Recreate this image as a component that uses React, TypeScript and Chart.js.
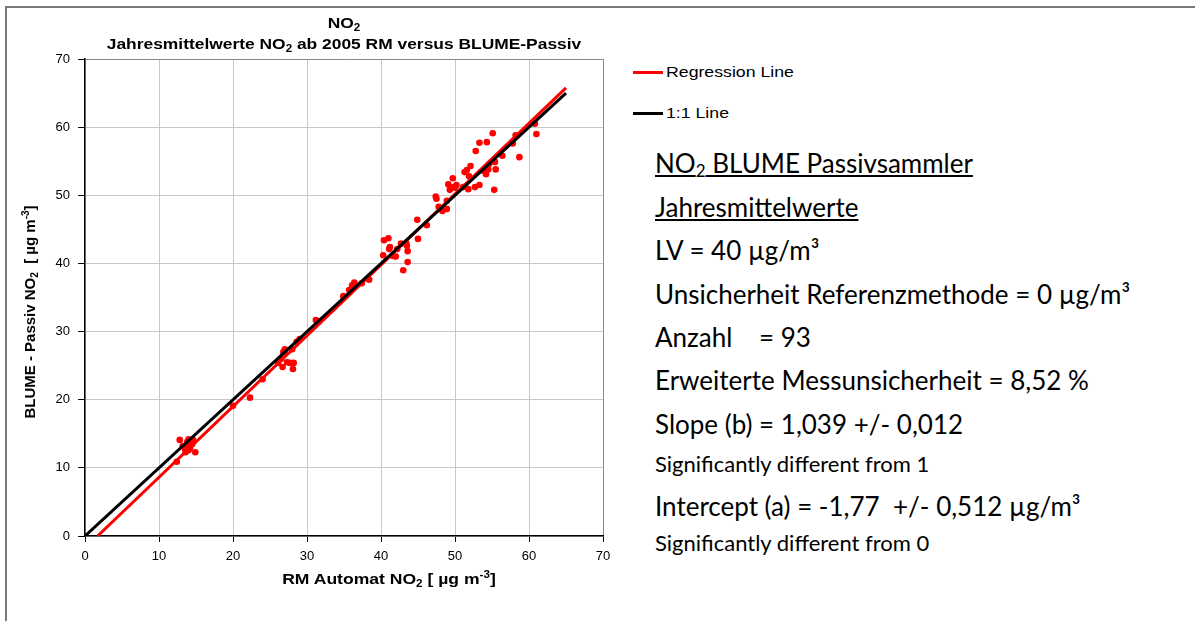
import React, { useEffect, useRef } from "react";
import { Chart, registerables } from "chart.js";

Chart.register(...registerables);

// RM Automat NO2 annual means (x) and BLUME passive sampler annual means (y)
const rmAutomat = [
  12.4, 12.8, 13.2, 13.6, 13.8, 13.9, 14.0, 14.1, 14.2, 14.3, 14.5, 14.6, 14.9, 13.5, 14.0,
  20.0, 22.3, 24.0,
  26.1, 26.7, 26.8, 27.0, 27.0, 27.3, 27.7, 28.0, 28.1, 28.2, 28.6, 29.0, 26.5,
  31.2, 31.6, 34.9, 35.7, 36.1, 36.4, 37.4, 38.4,
  40.3, 40.4, 41.0, 41.2, 41.1, 41.6, 42.0, 42.2, 42.7, 43.4, 43.5, 43.6, 43.6, 43.0, 45.0, 44.9, 46.2,
  47.4, 47.5, 47.8, 48.3, 48.9, 48.9, 49.1, 49.3, 49.7, 49.8, 50.0, 51.1, 51.3, 51.6, 51.8, 51.9,
  52.1, 52.7, 52.8, 53.3, 53.3, 54.2, 54.3, 54.5, 54.6, 55.1, 55.3, 55.4, 55.5, 56.4, 57.8, 58.2,
  58.7, 60.8, 61.0, 50.2, 53.8,
];
const blumePassiv = [
  10.9, 14.1, 13.2, 12.3, 13.8, 13.6, 14.2, 13.3, 12.9, 13.9, 13.5, 14.1, 12.3, 12.8, 12.6,
  19.1, 20.3, 23.0,
  25.4, 24.8, 27.0, 26.9, 27.4, 25.5, 25.4, 27.4, 24.5, 25.4, 28.5, 28.9, 26.0,
  31.7, 31.5, 35.2, 36.1, 36.8, 37.2, 37.1, 37.6,
  41.2, 43.4, 43.7, 42.4, 42.1, 41.1, 41.0, 42.1, 42.9, 43.0, 42.6, 41.8, 40.2, 39.0, 43.6, 46.4, 45.6,
  49.8, 49.5, 48.3, 47.7, 49.2, 48.0, 51.6, 50.8, 52.5, 51.2, 51.1, 51.2, 53.4, 53.7, 50.9, 52.8,
  54.3, 51.2, 56.5, 51.5, 57.7, 53.1, 57.8, 53.8, 54.6, 59.1, 50.8, 54.9, 53.8, 55.8, 57.6, 58.8,
  55.6, 60.5, 59.0, 51.5, 53.6,
];

// Regression line y = 1.039 x - 1.77, drawn from y = 0 to x = 65
const regressionX = [1.7, 65];
const regressionY = [0, 65.77];
// 1:1 line
const identityX = [0, 65];
const identityY = [0, 65];

const axisMin = 0;
const axisMax = 70;
const axisStep = 10;

const statLines = [
  "LV = 40 µg/m³",
  "Unsicherheit Referenzmethode = 0 µg/m³",
  "Anzahl    = 93",
  "Erweiterte Messunsicherheit = 8,52 %",
  "Slope (b) = 1,039 +/- 0,012",
];

const ARIAL = "'Liberation Sans', Arial, sans-serif";
const BODY = "Lato, 'Noto Sans', sans-serif";

export default function App() {
  const canvasRef = useRef<HTMLCanvasElement>(null);

  useEffect(() => {
    const toXY = (xs: number[], ys: number[]) => xs.map((x, i) => ({ x, y: ys[i] }));
    const tickFont = { family: ARIAL, size: 13 };
    const gridColor = (ctx: any) => (ctx.tick && ctx.tick.value === axisMax ? "#8a8a8a" : "#c8c8c8");
    const chart = new Chart(canvasRef.current!, {
      type: "scatter",
      data: {
        datasets: [
          {
            label: "1:1 Line",
            data: toXY(identityX, identityY),
            showLine: true,
            borderColor: "#000000",
            borderWidth: 3,
            pointRadius: 0,
            order: 0,
          },
          {
            label: "Regression Line",
            data: toXY(regressionX, regressionY),
            showLine: true,
            borderColor: "#ff0000",
            borderWidth: 3,
            pointRadius: 0,
            order: 1,
          },
          {
            label: "Jahresmittelwerte",
            data: toXY(rmAutomat, blumePassiv),
            backgroundColor: "#ff0000",
            borderWidth: 0,
            pointRadius: 3.3,
            order: 2,
          },
        ],
      },
      options: {
        animation: false,
        responsive: false,
        maintainAspectRatio: false,
        layout: { padding: { left: 0, right: 22, top: 59, bottom: 0 } },
        plugins: {
          legend: { display: false },
          tooltip: { enabled: false },
          title: { display: false },
        },
        scales: {
          x: {
            type: "linear",
            min: axisMin,
            max: axisMax,
            ticks: { stepSize: axisStep, color: "#000", font: tickFont, padding: 7 },
            grid: { color: gridColor, lineWidth: 1, tickColor: "#000", tickLength: 6 },
            border: { color: "#000", width: 1.5 },
            afterFit: (s: any) => {
              s.height = 64;
            },
          },
          y: {
            type: "linear",
            min: axisMin,
            max: axisMax,
            ticks: { stepSize: axisStep, color: "#000", font: tickFont, padding: 8 },
            grid: { color: gridColor, lineWidth: 1, tickColor: "#000", tickLength: 7 },
            border: { color: "#000", width: 1.5 },
            afterFit: (s: any) => {
              s.width = 85;
            },
          },
        },
      },
    });
    return () => chart.destroy();
  }, []);

  const abs = (style: React.CSSProperties): React.CSSProperties => ({ position: "absolute", ...style });
  const bigLine = (top: number): React.CSSProperties =>
    abs({ left: 655, top, fontFamily: BODY, fontSize: 26, lineHeight: "26px", whiteSpace: "pre", color: "#000" });
  const smallLine = (top: number): React.CSSProperties =>
    abs({ left: 655, top, fontFamily: BODY, fontSize: 22, lineHeight: "22px", whiteSpace: "pre", color: "#000" });

  const bigTops = [150, 237, 281, 324, 367, 411];
  const sub = { fontSize: 10, verticalAlign: "-3px", lineHeight: 0 } as React.CSSProperties;
  const sup = { fontSize: 10, verticalAlign: "6px", lineHeight: 0 } as React.CSSProperties;
  const stretchC = "scaleX(1.16)";

  return (
    <div style={abs({ left: 0, top: 0, width: 1195, height: 621, overflow: "hidden", background: "#fff" })}>
      <div
        style={abs({
          left: 5,
          top: 6,
          width: 1400,
          height: 800,
          borderLeft: "2px solid #7a7a7a",
          borderTop: "2px solid #7a7a7a",
        })}
      />
      <canvas ref={canvasRef} width={625} height={600} style={abs({ left: 0, top: 0, display: "block" })} />

      {/* Chart title */}
      <div style={abs({ left: 85, width: 518, top: 13, textAlign: "center", fontFamily: ARIAL, fontWeight: "bold", fontSize: 15, lineHeight: "20px", transform: stretchC })}>
        NO<sub style={sub}>2</sub>
      </div>
      <div style={abs({ left: 85, width: 518, top: 34, textAlign: "center", fontFamily: ARIAL, fontWeight: "bold", fontSize: 15, lineHeight: "20px", whiteSpace: "nowrap", transform: stretchC })}>
        Jahresmittelwerte NO<sub style={sub}>2</sub> ab 2005 RM versus BLUME-Passiv
      </div>

      {/* X axis title */}
      <div style={abs({ left: 250, width: 278, top: 569, textAlign: "center", fontFamily: ARIAL, fontWeight: "bold", fontSize: 15, lineHeight: "20px", whiteSpace: "nowrap", transform: "scaleX(1.17)" })}>
        RM Automat NO<sub style={sub}>2</sub> [ µg m<sup style={sup}>-3</sup>]
      </div>

      {/* Y axis title */}
      <div
        style={abs({
          left: 30 - 150,
          top: 312 - 10,
          width: 300,
          height: 20,
          transform: "rotate(-90deg)",
          transformOrigin: "150px 10px",
          textAlign: "center",
          fontFamily: ARIAL,
          fontWeight: "bold",
          fontSize: 15,
          lineHeight: "20px",
          whiteSpace: "pre",
        })}
      >
        BLUME - Passiv NO<sub style={sub}>2</sub>{"  "}[ µg m<sup style={sup}>-3</sup>]
      </div>

      {/* Legend */}
      <div style={abs({ left: 633, top: 71, width: 30, height: 3, background: "#ff0000" })} />
      <div style={abs({ left: 666, top: 63, fontFamily: ARIAL, fontSize: 15, lineHeight: "18px", whiteSpace: "nowrap", transform: "scaleX(1.18)", transformOrigin: "0 50%" })}>Regression Line</div>
      <div style={abs({ left: 633, top: 112, width: 30, height: 3, background: "#000" })} />
      <div style={abs({ left: 666, top: 104, fontFamily: ARIAL, fontSize: 15, lineHeight: "18px", whiteSpace: "nowrap", transform: "scaleX(1.18)", transformOrigin: "0 50%" })}>1:1 Line</div>

      {/* Statistics text */}
      <div style={{ ...bigLine(bigTops[0]), textDecoration: "underline" }}>
        NO<sub style={{ fontSize: 17, verticalAlign: "-4px", lineHeight: 0 }}>2</sub> BLUME Passivsammler
      </div>
      <div style={{ ...bigLine(194), textDecoration: "underline" }}>Jahresmittelwerte</div>
      {statLines.map((t, i) => (
        <div key={i} style={bigLine(bigTops[i + 1])}>
          {t}
        </div>
      ))}
      <div style={smallLine(452.5)}>Significantly different from 1</div>
      <div style={bigLine(493)}>Intercept (a) = -1,77  +/- 0,512 µg/m³</div>
      <div style={smallLine(531.5)}>Significantly different from 0</div>
    </div>
  );
}
